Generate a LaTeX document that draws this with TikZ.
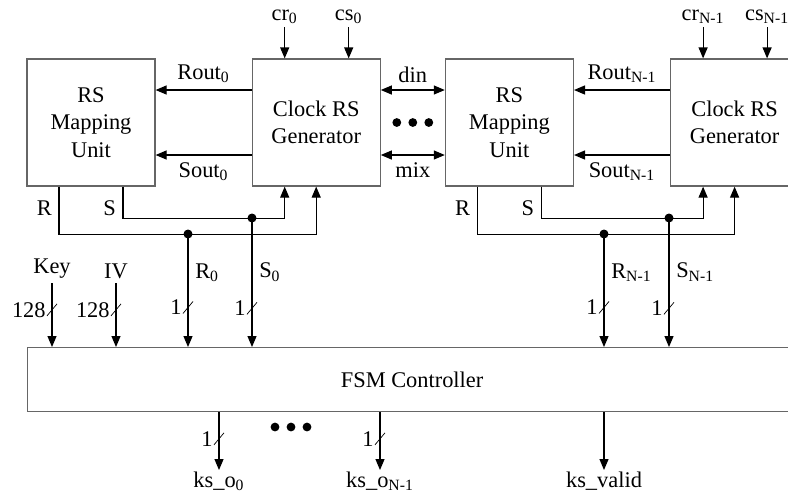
\documentclass[tikz,border=0pt]{standalone}
\usepackage{fontspec}
\setmainfont{Liberation Serif}
\usetikzlibrary{positioning, arrows.meta, calc}
\tikzset{block/.style={draw=black!60, line width=0.6pt, align=center, inner sep=0pt, minimum width=64pt, minimum height=63.5pt},
sig/.style={-{Triangle[length=5.5pt,width=4.5pt]}, line width=0.6pt},
bisig/.style={{Triangle[length=5.5pt,width=4.5pt]}-{Triangle[length=5.5pt,width=4.5pt]}, line width=0.6pt},
tap/.style={circle, fill, inner sep=0pt, minimum size=4.5pt},
bus/.pic={\draw[line width=0.35pt] (-2.5pt,-3pt) -- (2.5pt,3pt);
  \node[anchor=east, inner sep=1pt] at (-2pt,0pt) {\tikzpictext};}}

\begin{document}
\begin{tikzpicture}[x=0.5pt, y=-0.5pt, node distance=48pt, font=\fontsize{11.2}{13.6}\selectfont]
  \useasboundingbox (0,0) rectangle (788,495);
  \clip (0,0) rectangle (788,495);
  % stage 0
  \node[block] (rs0) at (91,122.5) {RS\\ Mapping\\ Unit};
  \node[block, right=of rs0] (clk0) {Clock RS\\ Generator};
  % stage N-1
  \node[block, right=32pt of clk0] (rs1) {RS\\ Mapping\\ Unit};
  \node[block, right=of rs1] (clk1) {Clock RS\\ Generator};
  % controller
  \node[block, minimum width=384.5pt, minimum height=32pt, anchor=north west] (fsm) at (27,347) {FSM Controller};
  % clock inputs
  \draw[sig] ([xshift=-15.75pt, yshift=15.5pt]clk0.north) node[above, inner sep=1.5pt]{cr\textsubscript{0}} -- ([xshift=-15.75pt]clk0.north);
  \draw[sig] ([xshift=16.25pt, yshift=15.5pt]clk0.north) node[above, inner sep=1.5pt]{cs\textsubscript{0}} -- ([xshift=16.25pt]clk0.north);
  \draw[sig] ([xshift=-15.75pt, yshift=15.5pt]clk1.north) node[above, inner sep=1.5pt]{cr\textsubscript{N-1}} -- ([xshift=-15.75pt]clk1.north);
  \draw[sig] ([xshift=16.25pt, yshift=15.5pt]clk1.north) node[above, inner sep=1.5pt]{cs\textsubscript{N-1}} -- ([xshift=16.25pt]clk1.north);
  % Rout / Sout
  \draw[sig] ([yshift=16.25pt]clk0.west) -- node[above]{Rout\textsubscript{0}} ([yshift=16.25pt]rs0.east);
  \draw[sig] ([yshift=-16.25pt]clk0.west) -- node[below]{Sout\textsubscript{0}} ([yshift=-16.25pt]rs0.east);
  \draw[sig] ([yshift=16.25pt]clk1.west) -- node[above]{Rout\textsubscript{N-1}} ([yshift=16.25pt]rs1.east);
  \draw[sig] ([yshift=-16.25pt]clk1.west) -- node[below]{Sout\textsubscript{N-1}} ([yshift=-16.25pt]rs1.east);
  % din / mix
  \draw[bisig] ([yshift=16.25pt]clk0.east) -- node[above]{din} ([yshift=16.25pt]rs1.west);
  \draw[bisig] ([yshift=-16.25pt]clk0.east) -- node[below]{mix} ([yshift=-16.25pt]rs1.west);
  \coordinate (gap) at ($(clk0.east)!0.5!(rs1.west)$);
  \foreach \dx in {-8,0,8} \fill ([xshift=\dx pt]gap) circle (2.2pt);
  % R / S feedback
  \draw[sig] ([xshift=16pt]rs0.south) -- node[left, pos=0.66]{S} ++(0,-16pt) -| ([xshift=-15.75pt]clk0.south);
  \draw[sig] ([xshift=-16pt]rs0.south) -- node[left, pos=0.44]{R} ++(0,-24pt) -| (clk0.south);
  \draw[sig] ([xshift=16pt]rs1.south) -- node[left, pos=0.66]{S} ++(0,-16pt) -| ([xshift=-15.75pt]clk1.south);
  \draw[sig] ([xshift=-16pt]rs1.south) -- node[left, pos=0.44]{R} ++(0,-24pt) -| (clk1.south);
  \node[tap] (s0tap) at (252,218) {};
  \node[tap] (r0tap) at (188,234) {};
  \node[tap] (s1tap) at (669,218) {};
  \node[tap] (r1tap) at (604,234) {};
  % into the controller
  \draw[sig] (r0tap.center) -- node[right, pos=0.34]{R\textsubscript{0}} coordinate[pos=0.65] (r0bw) (r0tap |- fsm.north);
  \draw[sig] (s0tap.center) -- node[right, pos=0.42]{S\textsubscript{0}} coordinate[pos=0.70] (s0bw) (s0tap |- fsm.north);
  \draw[sig] (r1tap.center) -- node[right, pos=0.34]{R\textsubscript{N-1}} coordinate[pos=0.65] (r1bw) (r1tap |- fsm.north);
  \draw[sig] (s1tap.center) -- node[right, pos=0.42]{S\textsubscript{N-1}} coordinate[pos=0.70] (s1bw) (s1tap |- fsm.north);
  \coordinate (keyin) at (52,283);
  \coordinate (ivin) at (116,283);
  \draw[sig] (keyin) node[above, inner sep=2pt]{Key} -- coordinate[pos=0.42] (keybw) (keyin |- fsm.north);
  \draw[sig] (ivin) node[above, inner sep=2pt]{IV} -- coordinate[pos=0.42] (ivbw) (ivin |- fsm.north);
  % outputs
  \coordinate (o0) at (219,470);
  \coordinate (on) at (380,470);
  \coordinate (ov) at (604,470);
  \draw[sig] (fsm.south -| o0) -- coordinate[pos=0.46] (o0bw) (o0) node[below, inner sep=0.5pt]{ks\_o\textsubscript{0}};
  \draw[sig] (fsm.south -| on) -- coordinate[pos=0.46] (onbw) (on) node[below, inner sep=0.5pt]{ks\_o\textsubscript{N-1}};
  \draw[sig] (fsm.south -| ov) -- (ov) node[below, inner sep=0.5pt]{ks\_valid};
  \coordinate (odots) at (291,427);
  \foreach \dx in {-8,0,8} \fill ([xshift=\dx pt]odots) circle (2.2pt);
  % bus widths
  \pic[pic text=128] at (keybw) {bus};
  \pic[pic text=128] at (ivbw) {bus};
  \pic[pic text=1] at (r0bw) {bus};
  \pic[pic text=1] at (s0bw) {bus};
  \pic[pic text=1] at (r1bw) {bus};
  \pic[pic text=1] at (s1bw) {bus};
  \pic[pic text=1] at (o0bw) {bus};
  \pic[pic text=1] at (onbw) {bus};
\end{tikzpicture}
\end{document}
